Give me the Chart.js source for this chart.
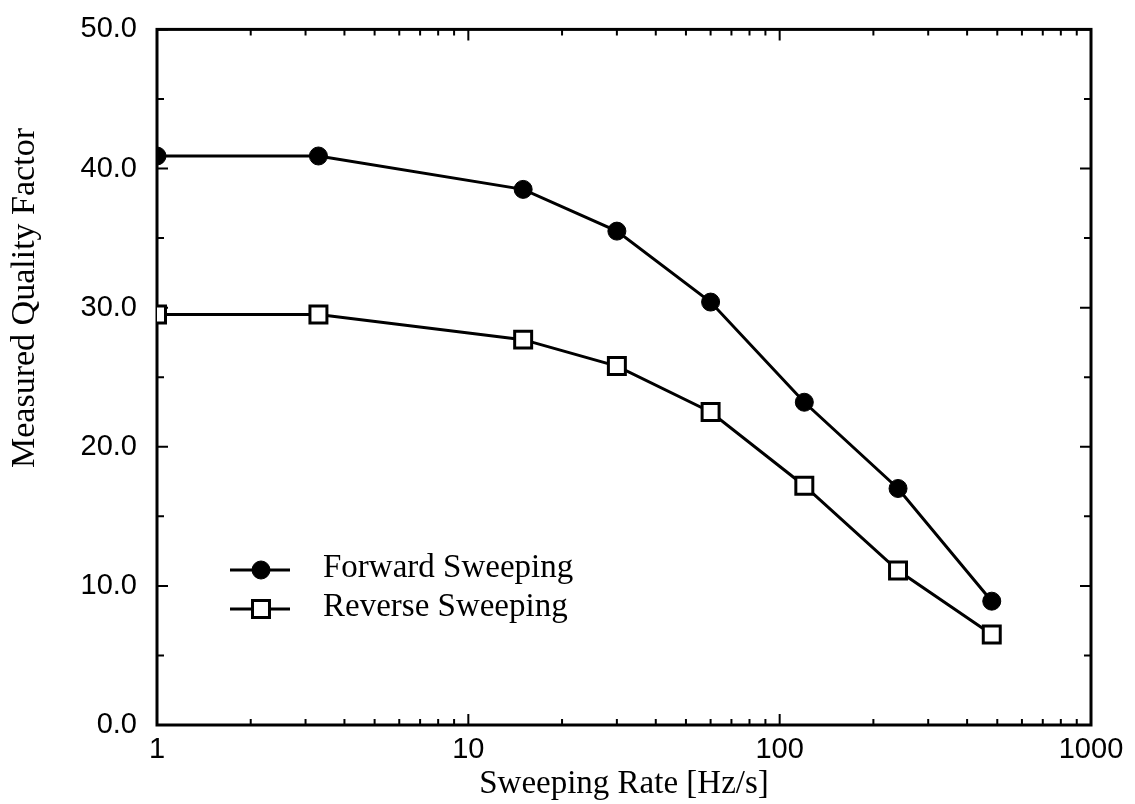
<!DOCTYPE html>
<html>
<head>
<meta charset="utf-8">
<script src="https://cdn.jsdelivr.net/npm/chart.js@4.4.0/dist/chart.umd.min.js"></script>
<style>
  html, body { margin: 0; background: #fff; }
</style>
</head>
<body>
<canvas id="chart" width="1135" height="804"></canvas>
<script>
const rates = [1, 3.3, 15, 30, 60, 120, 240, 480];
const forwardQ = [40.9, 40.9, 38.5, 35.5, 30.4, 23.2, 17.0, 8.9];
const reverseQ = [29.5, 29.5, 27.7, 25.8, 22.5, 17.2, 11.1, 6.5];
const seriesNames = ["Forward Sweeping", "Reverse Sweeping"];
const xTickLabels = [1, 10, 100, 1000];
const yTickLabels = [0, 10, 20, 30, 40, 50];
const yTitle = "Measured Quality Factor";

const tickFont = { family: "Liberation Sans", size: 29 };
const titleFont = { family: "Liberation Serif", size: 33 };

// frame + inward ticks on all four sides
const framePlugin = {
    id: "frame",
    beforeDatasetsDraw(chart) {
        const { ctx, chartArea: a, scales } = chart;
        ctx.save();
        ctx.strokeStyle = "#000";
        ctx.lineWidth = 3;
        ctx.strokeRect(a.left, a.top, a.right - a.left, a.bottom - a.top);
        ctx.lineWidth = 2;
        ctx.beginPath();
        scales.x.ticks.forEach(t => {
            const px = scales.x.getPixelForValue(t.value);
            const len = xTickLabels.includes(t.value) ? 11 : 6;
            ctx.moveTo(px, a.bottom); ctx.lineTo(px, a.bottom - len);
            ctx.moveTo(px, a.top); ctx.lineTo(px, a.top + len);
        });
        for (let i = 0; i < yTickLabels.length; i++) {
            const v = yTickLabels[i];
            const py = scales.y.getPixelForValue(v);
            ctx.moveTo(a.left, py); ctx.lineTo(a.left + 11, py);
            ctx.moveTo(a.right, py); ctx.lineTo(a.right - 11, py);
            if (i < yTickLabels.length - 1) {
                const pm = scales.y.getPixelForValue((v + yTickLabels[i + 1]) / 2);
                ctx.moveTo(a.left, pm); ctx.lineTo(a.left + 7, pm);
                ctx.moveTo(a.right, pm); ctx.lineTo(a.right - 7, pm);
            }
        }
        ctx.stroke();
        ctx.restore();
    }
};

// legend inside the plot (lower left) and the y title, which sits above centre
const labelsPlugin = {
    id: "insideLabels",
    afterDraw(chart) {
        const { ctx } = chart;
        ctx.save();
        chart.data.datasets.forEach((ds, i) => {
            const y = 570 + i * 39;
            ctx.strokeStyle = "#000";
            ctx.lineWidth = 3;
            ctx.beginPath();
            ctx.moveTo(230, y); ctx.lineTo(290, y);
            ctx.stroke();
            ctx.fillStyle = ds.pointBackgroundColor;
            ctx.lineWidth = ds.pointBorderWidth;
            Chart.helpers.drawPoint(ctx, {
                pointStyle: ds.pointStyle, radius: ds.pointRadius, rotation: 0, borderWidth: ds.pointBorderWidth
            }, 261, y);
            ctx.fillStyle = "#000";
            ctx.font = "33px 'Liberation Serif'";
            ctx.textBaseline = "middle";
            ctx.fillText(ds.label, 323, y - 2);
        });
        ctx.translate(25, 298);
        ctx.rotate(-Math.PI / 2);
        ctx.font = "34px 'Liberation Serif'";
        ctx.textAlign = "center";
        ctx.textBaseline = "middle";
        ctx.fillText(yTitle, 0, 0);
        ctx.restore();
    }
};

new Chart(document.getElementById("chart"), {
    type: "line",
    data: {
        datasets: [
            {
                label: seriesNames[0],
                data: rates.map((r, i) => ({ x: r, y: forwardQ[i] })),
                borderColor: "#000",
                borderWidth: 3,
                pointStyle: "circle",
                pointRadius: 9,
                pointBackgroundColor: "#000",
                pointBorderColor: "#000",
                pointBorderWidth: 1,
                tension: 0
            },
            {
                label: seriesNames[1],
                data: rates.map((r, i) => ({ x: r, y: reverseQ[i] })),
                borderColor: "#000",
                borderWidth: 3,
                pointStyle: "rect",
                pointRadius: 12,
                pointBackgroundColor: "#fff",
                pointBorderColor: "#000",
                pointBorderWidth: 3,
                tension: 0
            }
        ]
    },
    options: {
        responsive: false,
        animation: false,
        devicePixelRatio: 1,
        layout: { padding: { top: 20, right: 44, left: 0, bottom: 0 } },
        plugins: { legend: { display: false }, tooltip: { enabled: false } },
        scales: {
            x: {
                type: "logarithmic",
                min: 1,
                max: 1000,
                afterBuildTicks(scale) {
                    const t = [];
                    for (let d = 0; d < xTickLabels.length - 1; d++) {
                        for (let m = 1; m < 10; m++) t.push({ value: xTickLabels[d] * m });
                    }
                    t.push({ value: xTickLabels[xTickLabels.length - 1] });
                    scale.ticks = t;
                },
                afterFit(scale) { scale.height = 79; },
                grid: { display: false },
                border: { display: false },
                ticks: {
                    autoSkip: false,
                    maxRotation: 0,
                    padding: 0,
                    color: "#000",
                    font: tickFont,
                    callback: v => xTickLabels.includes(v) ? String(v) : ""
                },
                title: {
                    display: true,
                    text: "Sweeping Rate [Hz/s]",
                    color: "#000",
                    font: titleFont,
                    padding: { top: 0, bottom: 0 }
                }
            },
            y: {
                min: 0,
                max: 50,
                afterBuildTicks(scale) {
                    scale.ticks = yTickLabels.map(v => ({ value: v }));
                },
                afterFit(scale) { scale.width = 157; },
                grid: { display: false },
                border: { display: false },
                ticks: {
                    padding: 12,
                    color: "#000",
                    font: tickFont,
                    callback: v => v.toFixed(1)
                },
                title: { display: false }
            }
        }
    },
    plugins: [framePlugin, labelsPlugin]
});
</script>
</body>
</html>
